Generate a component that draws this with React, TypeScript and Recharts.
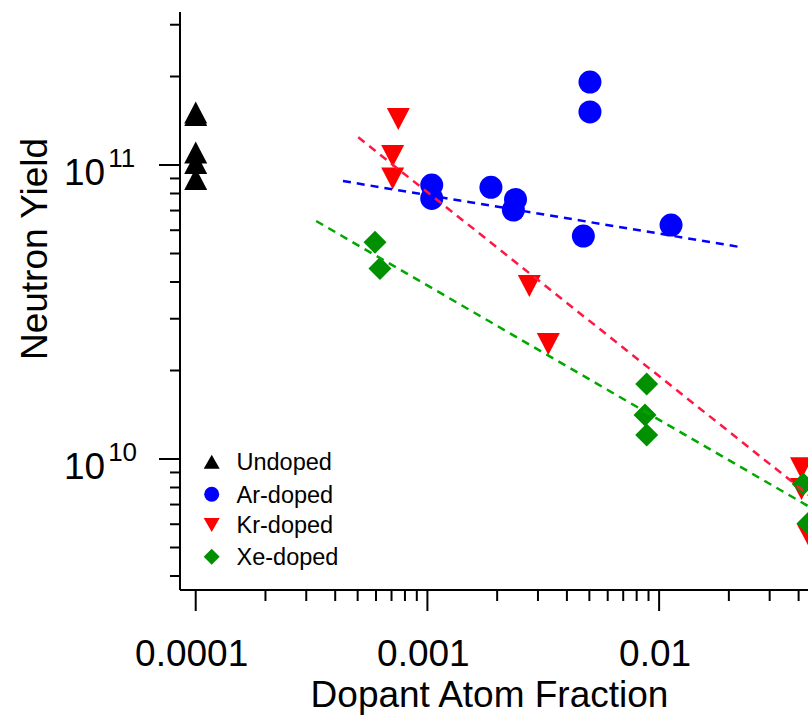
import React from 'react';
import { ScatterChart, Scatter, XAxis, YAxis, Legend } from 'recharts';

// ---- data ----
const undopedX = [1e-4, 1e-4, 1e-4, 1e-4, 1e-4];
const undopedY = [1.509e11, 1.479e11, 1.103e11, 1.016e11, 8.96e10];

const arX = [1.044e-3, 1.044e-3, 1.88e-3, 2.4e-3, 2.35e-3, 4.71e-3, 5.03e-3, 5.03e-3, 1.126e-2];
const arY = [8.55e10, 7.7e10, 8.4e10, 7.64e10, 7.03e10, 5.73e10, 1.915e11, 1.515e11, 6.25e10];

const krX = [7.49e-4, 7.08e-4, 7.08e-4, 2.753e-3, 3.325e-3, 4.117e-2, 4.117e-2, 4.393e-2];
const krY = [1.434e11, 1.073e11, 8.99e10, 3.88e10, 2.46e10, 9.3e9, 7.91e9, 5.54e9];

const xeX = [5.94e-4, 6.24e-4, 8.84e-3, 8.69e-3, 8.84e-3, 4.187e-2, 4.393e-2];
const xeY = [5.46e10, 4.45e10, 1.8e10, 1.411e10, 1.207e10, 8.22e9, 6.04e9];

const arFitX = [4.32e-4, 2.234e-2];
const arFitY = [8.82e10, 5.26e10];
const krFitX = [5.03e-4, 0.05];
const krFitY = [1.242e11, 6.99e9];
const xeFitX = [3.31e-4, 0.05];
const xeFitY = [6.45e10, 6.52e9];

const seriesNames = ['Undoped', 'Ar-doped', 'Kr-doped', 'Xe-doped'];

const xMajorTicks = [1e-4, 1e-3, 1e-2];
const yMajorTicks = [1e10, 1e11];
const mantissas = [2, 3, 4, 5, 6, 7, 8, 9];

const X_DOMAIN = [8.555e-5, 0.08131];
const Y_DOMAIN = [3.5845e9, 3.3146e11];

// ---- styling ----
const FONT = '"Liberation Sans", Arial, Helvetica, sans-serif';
const C_BLACK = '#000000';
const C_BLUE = '#0000ff';
const C_RED = '#ff0000';
const C_GREEN = '#009000';
const L_BLUE = '#0000ff';
const L_RED = '#ff1744';
const L_GREEN = '#00a800';

const toPts = (xs: number[], ys: number[]) => xs.map((x, i) => ({ x, y: ys[i] }));

const xTicks: number[] = [];
xMajorTicks.forEach((m) => {
  xTicks.push(m);
  mantissas.forEach((k) => {
    const v = m * k;
    if (v <= X_DOMAIN[1]) xTicks.push(v);
  });
});
const yTicks: number[] = [];
[1e9, ...yMajorTicks].forEach((m) => {
  if (m >= Y_DOMAIN[0]) yTicks.push(m);
  mantissas.forEach((k) => {
    const v = m * k;
    if (v >= Y_DOMAIN[0] && v <= Y_DOMAIN[1]) yTicks.push(v);
  });
});

const isMajor = (v: number) => Math.abs(Math.log10(v) - Math.round(Math.log10(v))) < 1e-6;

const XTick = (props: any) => {
  const { x, y, payload } = props;
  const v = payload.value;
  const major = isMajor(v);
  const e = Math.round(Math.log10(v));
  return (
    <g>
      <line x1={x} y1={y} x2={x} y2={y + (major ? 21 : 11)} stroke="#000" strokeWidth={2} />
      {major && (
        <text x={x - 4} y={y + 76} textAnchor="middle" fontSize={37} fontFamily={FONT} fill="#000">
          {v.toFixed(-e)}
        </text>
      )}
    </g>
  );
};

const YTick = (props: any) => {
  const { x, y, payload } = props;
  const v = payload.value;
  const major = isMajor(v);
  const e = Math.round(Math.log10(v));
  return (
    <g>
      <line x1={x - (major ? 21 : 10)} y1={y} x2={x} y2={y} stroke="#000" strokeWidth={2} />
      {major && (
        <text x={x - 116} y={y + 19.5} fontSize={37} fontFamily={FONT} fill="#000">
          10
          <tspan dx={3} dy={-18} fontSize={26}>
            {String(e)}
          </tspan>
        </text>
      )}
    </g>
  );
};

const UpTri = ({ cx, cy, fill, w = 23, h = 22 }: any) => (
  <polygon points={`${cx},${cy - h / 2} ${cx + w / 2},${cy + h / 2} ${cx - w / 2},${cy + h / 2}`} fill={fill} />
);
const DownTri = ({ cx, cy, fill, w = 23, h = 22 }: any) => (
  <polygon points={`${cx - w / 2},${cy - h / 2} ${cx + w / 2},${cy - h / 2} ${cx},${cy + h / 2}`} fill={fill} />
);
const Dot = ({ cx, cy, fill, r = 11.5 }: any) => <circle cx={cx} cy={cy} r={r} fill={fill} />;
const Diamond = ({ cx, cy, fill, r = 11.5 }: any) => (
  <polygon points={`${cx},${cy - r} ${cx + r},${cy} ${cx},${cy + r} ${cx - r},${cy}`} fill={fill} />
);

const legendColors = [C_BLACK, C_BLUE, C_RED, C_GREEN];

const LegendContent = () => {
  const rows = [21.7, 54.3, 85, 116.7];
  return (
    <svg width={200} height={135} style={{ display: 'block' }}>
      {seriesNames.map((name, i) => {
        const cy = rows[i];
        const cx = 21.7;
        const fill = legendColors[i];
        let sym;
        if (i === 0) sym = <UpTri cx={cx} cy={cy} fill={fill} w={16} h={14} />;
        else if (i === 1) sym = <Dot cx={cx} cy={cy} fill={fill} r={7.5} />;
        else if (i === 2) sym = <DownTri cx={cx} cy={cy} fill={fill} w={16} h={14} />;
        else sym = <Diamond cx={cx} cy={cy} fill={fill} r={8} />;
        return (
          <g key={name}>
            {sym}
            <text x={46.5} y={cy + 8.3} fontSize={23.5} fontFamily={FONT} fill="#000">
              {name}
            </text>
          </g>
        );
      })}
    </svg>
  );
};

const XTitle = () => (
  <text x={489.5} y={707} textAnchor="middle" fontSize={37} fontFamily={FONT} fill="#000">
    Dopant Atom Fraction
  </text>
);
const YTitle = () => (
  <text
    x={47}
    y={249}
    transform="rotate(-90, 47, 249)"
    textAnchor="middle"
    fontSize={37}
    fontFamily={FONT}
    fill="#000"
  >
    Neutron Yield
  </text>
);

const noShape = () => <g />;

export default function App() {
  return (
    <div
      style={{
        position: 'absolute',
        left: 0,
        top: 0,
        width: 808,
        height: 716,
        overflow: 'hidden',
        background: '#fff',
      }}
    >
      <ScatterChart width={880} height={716} margin={{ top: 12, right: 10, bottom: 0, left: 0 }} style={{ fontFamily: FONT }}>
        <XAxis
          xAxisId={0}
          type="number"
          dataKey="x"
          scale="log"
          domain={X_DOMAIN}
          allowDataOverflow
          ticks={xTicks}
          interval={0}
          tick={<XTick />}
          tickLine={false}
          tickSize={0}
          tickMargin={0}
          axisLine={{ stroke: '#000', strokeWidth: 2 }}
          height={126}
          label={<XTitle />}
        />
        <XAxis
          xAxisId="top"
          orientation="top"
          type="number"
          dataKey="x"
          scale="log"
          domain={X_DOMAIN}
          allowDataOverflow
          tick={false}
          tickLine={false}
          axisLine={{ stroke: '#000', strokeWidth: 2 }}
          height={0}
        />
        <YAxis
          type="number"
          dataKey="y"
          scale="log"
          domain={Y_DOMAIN}
          allowDataOverflow
          ticks={yTicks}
          interval={0}
          tick={<YTick />}
          tickLine={false}
          tickSize={0}
          tickMargin={0}
          axisLine={{ stroke: '#000', strokeWidth: 2 }}
          width={180}
          label={<YTitle />}
        />
        <Legend
          layout="vertical"
          align="center"
          verticalAlign="middle"
          content={<LegendContent />}
          wrapperStyle={{ position: 'absolute', left: 190, top: 440, width: 200, height: 135 }}
        />
        <Scatter
          name="Undoped"
          data={toPts(undopedX, undopedY)}
          isAnimationActive={false}
          shape={(p: any) => <UpTri cx={p.cx} cy={p.cy} fill={C_BLACK} />}
        />
        <Scatter
          name="Ar-doped"
          data={toPts(arX, arY)}
          isAnimationActive={false}
          shape={(p: any) => <Dot cx={p.cx} cy={p.cy} fill={C_BLUE} />}
        />
        <Scatter
          name="Kr-doped"
          data={toPts(krX, krY)}
          isAnimationActive={false}
          shape={(p: any) => <DownTri cx={p.cx} cy={p.cy} fill={C_RED} />}
        />
        <Scatter
          name="Xe-doped"
          data={toPts(xeX, xeY)}
          isAnimationActive={false}
          shape={(p: any) => <Diamond cx={p.cx} cy={p.cy} fill={C_GREEN} />}
        />
        <Scatter
          name="Ar fit"
          data={toPts(arFitX, arFitY)}
          isAnimationActive={false}
          legendType="none"
          shape={noShape}
          line={{ stroke: L_BLUE, strokeWidth: 2.5, strokeDasharray: '8 6' }}
        />
        <Scatter
          name="Kr fit"
          data={toPts(krFitX, krFitY)}
          isAnimationActive={false}
          legendType="none"
          shape={noShape}
          line={{ stroke: L_RED, strokeWidth: 2.5, strokeDasharray: '8 6' }}
        />
        <Scatter
          name="Xe fit"
          data={toPts(xeFitX, xeFitY)}
          isAnimationActive={false}
          legendType="none"
          shape={noShape}
          line={{ stroke: L_GREEN, strokeWidth: 2.5, strokeDasharray: '8 6' }}
        />
      </ScatterChart>
    </div>
  );
}
